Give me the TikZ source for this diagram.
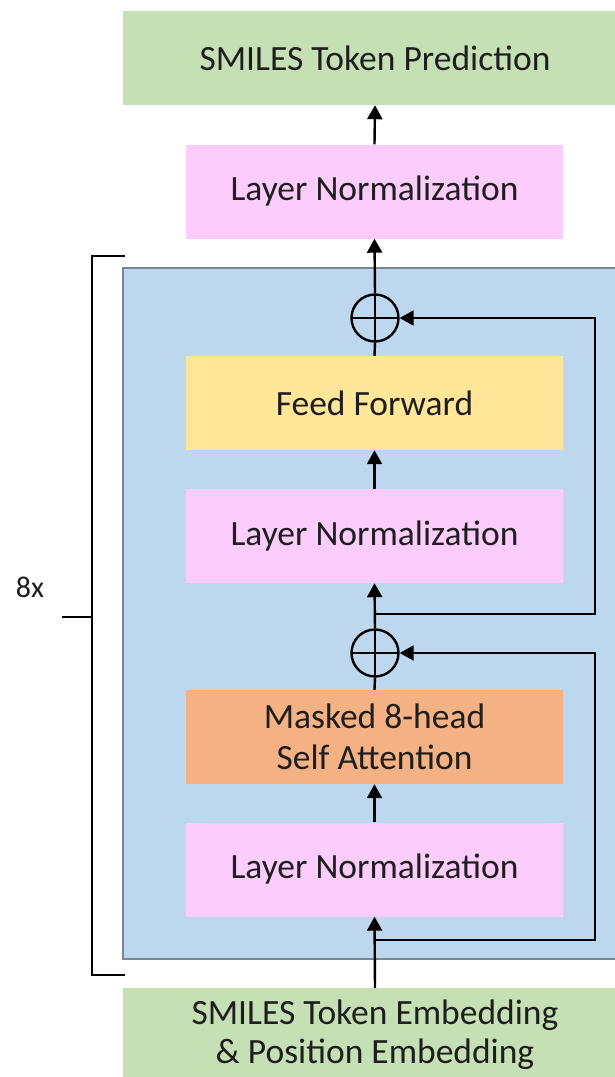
\documentclass[tikz,border=0pt]{standalone}
\usepackage{fontspec}
\setmainfont{Carlito}
\usetikzlibrary{arrows.meta}
\definecolor{cgreen}{HTML}{C5E0B4}
\definecolor{cpink}{HTML}{FCCCFC}
\definecolor{cyellow}{HTML}{FFE699}
\definecolor{corange}{HTML}{F4B183}
\definecolor{cblue}{HTML}{BDD7EE}
\definecolor{cborder}{HTML}{7A8593}
\definecolor{ctext}{HTML}{1E1E1E}
\begin{document}
\begin{tikzpicture}[x=1pt,y=-1pt,
  box/.style={minimum width=377pt,minimum height=94pt,inner sep=0pt,font=\fontsize{35.5}{41}\selectfont,text=ctext,align=center},
  wide/.style={box,minimum width=504pt,fill=cgreen},
  addop/.style={circle,draw,line width=2.4pt,minimum size=47pt,inner sep=0pt,
    path picture={\draw[line width=2.4pt] (path picture bounding box.north) -- (path picture bounding box.south)
      (path picture bounding box.west) -- (path picture bounding box.east);}},
  conn/.style={line width=2.4pt},
  arr/.style={conn,-{Triangle[length=14pt,width=15pt]}},
  brk/.style={line width=2.2pt}]
\useasboundingbox (0,0) rectangle (615,1077);
\clip (0,0) rectangle (615,1077);
\fill[white] (0,0) rectangle (615,1077);
% repeated block
\draw[fill=cblue,draw=cborder,line width=1.5pt] (123,268) rectangle (640,959);
% nodes
\node[wide] (pred) at (375,58) {SMILES Token Prediction};
\node[box,fill=cpink] (ln3) at (374.5,191.5) {Layer Normalization};
\node[addop] (add2) at (375,318) {};
\node[box,fill=cyellow] (ff) at (374.5,403) {Feed Forward};
\node[box,fill=cpink] (ln2) at (374.5,536) {Layer Normalization};
\node[addop] (add1) at (375,653) {};
\node[box,fill=corange] (att) at (374.5,737) {Masked 8-head\\Self Attention};
\node[box,fill=cpink] (ln1) at (374.5,869.5) {Layer Normalization};
\node[wide,font=\fontsize{35.5}{39}\selectfont] (emb) at (375,1035) {SMILES Token Embedding\\\& Position Embedding};
% main flow
\draw[arr] (emb.north) -- (ln1.south);
\draw[arr] (ln1.north) -- (att.south);
\draw[conn] (att.north) -- (add1.south);
\draw[arr] (add1.north) -- (ln2.south);
\draw[arr] (ln2.north) -- (ff.south);
\draw[conn] (ff.north) -- (add2.south);
\draw[arr] (add2.north) -- (ln3.south);
\draw[arr] (ln3.north) -- (pred.south);
% residual connections
\coordinate (r1) at (375,940);
\coordinate (r2) at (375,614);
\draw[arr] (r1) -- (595,940) -- (595,653) -- (add1.east);
\draw[arr] (r2) -- (595,614) -- (595,318) -- (add2.east);
% bracket
\draw[brk] (125,256) -- (92,256) -- (92,975) -- (125,975);
\coordinate (bm) at (92,617);
\draw[brk] (bm) -- (62,617);
\node[font=\fontsize{30}{34}\selectfont,text=ctext] (nx) at (30,587) {8x};
\end{tikzpicture}
\end{document}
